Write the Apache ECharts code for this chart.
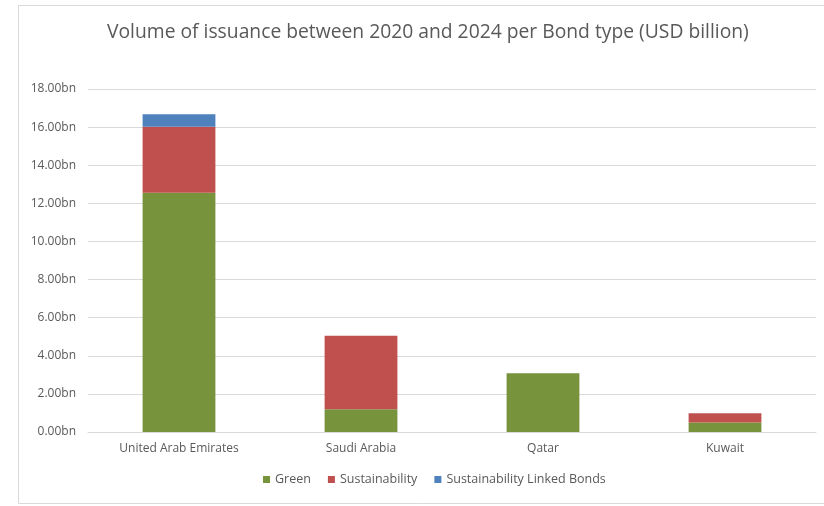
<!DOCTYPE html>
<html>
<head>
<meta charset="utf-8">
<script src="https://cdn.jsdelivr.net/npm/echarts@6/dist/echarts.min.js"></script>
<style>
  html, body { margin: 0; padding: 0; background: #fff; }
  #chart { width: 824px; height: 506px; }
</style>
</head>
<body>
<div id="chart"></div>
<script>
// values (USD billion)
const countries = ['United Arab Emirates', 'Saudi Arabia', 'Qatar', 'Kuwait'];
const green = [12.55, 1.2, 3.08, 0.5];
const sustainability = [3.47, 3.85, 0, 0.48];
const linkedBonds = [0.66, 0, 0, 0];

const myChart = echarts.init(document.getElementById('chart'));
const font = '"Open Sans", "Liberation Sans", sans-serif';

const option = {
    backgroundColor: '#fff',
    color: ['#77933c', '#c0504d', '#4f81bd'],
    title: {
        text: 'Volume of issuance between 2020 and 2024 per Bond type (USD billion)',
        left: 102,
        top: 18,
        textStyle: { fontFamily: font, fontSize: 19.3, fontWeight: 'normal', color: '#595959' }
    },
    legend: {
        bottom: 15,
        left: 258,
        itemWidth: 7,
        itemHeight: 7,
        itemGap: 17,
        icon: 'rect',
        textStyle: { fontFamily: font, fontSize: 12.5, color: '#595959' },
        data: ['Green', 'Sustainability', 'Sustainability Linked Bonds']
    },
    grid: { left: 88, right: 8, top: 89, bottom: 74 },
    xAxis: {
        type: 'category',
        data: countries,
        axisLine: { lineStyle: { color: '#d9d9d9' } },
        axisTick: { show: false },
        axisLabel: { fontFamily: font, fontSize: 12, color: '#595959', margin: 11 }
    },
    yAxis: {
        type: 'value',
        min: 0,
        max: 18,
        interval: 2,
        axisLine: { show: false },
        axisTick: { show: false },
        splitLine: { lineStyle: { color: '#d9d9d9' } },
        axisLabel: {
            fontFamily: font, fontSize: 12, color: '#595959', margin: 12,
            formatter: v => v.toFixed(2) + 'bn'
        }
    },
    series: [
        { name: 'Green', type: 'bar', stack: 'a', barWidth: '40%', data: green },
        { name: 'Sustainability', type: 'bar', stack: 'a', data: sustainability },
        { name: 'Sustainability Linked Bonds', type: 'bar', stack: 'a', data: linkedBonds }
    ],
    graphic: [
        {
            type: 'rect',
            shape: { x: 18.5, y: 5.5, width: 830, height: 498 },
            style: { fill: null, stroke: '#d9d9d9', lineWidth: 1 },
            silent: true
        }
    ]
};
myChart.setOption(option);
</script>
</body>
</html>
